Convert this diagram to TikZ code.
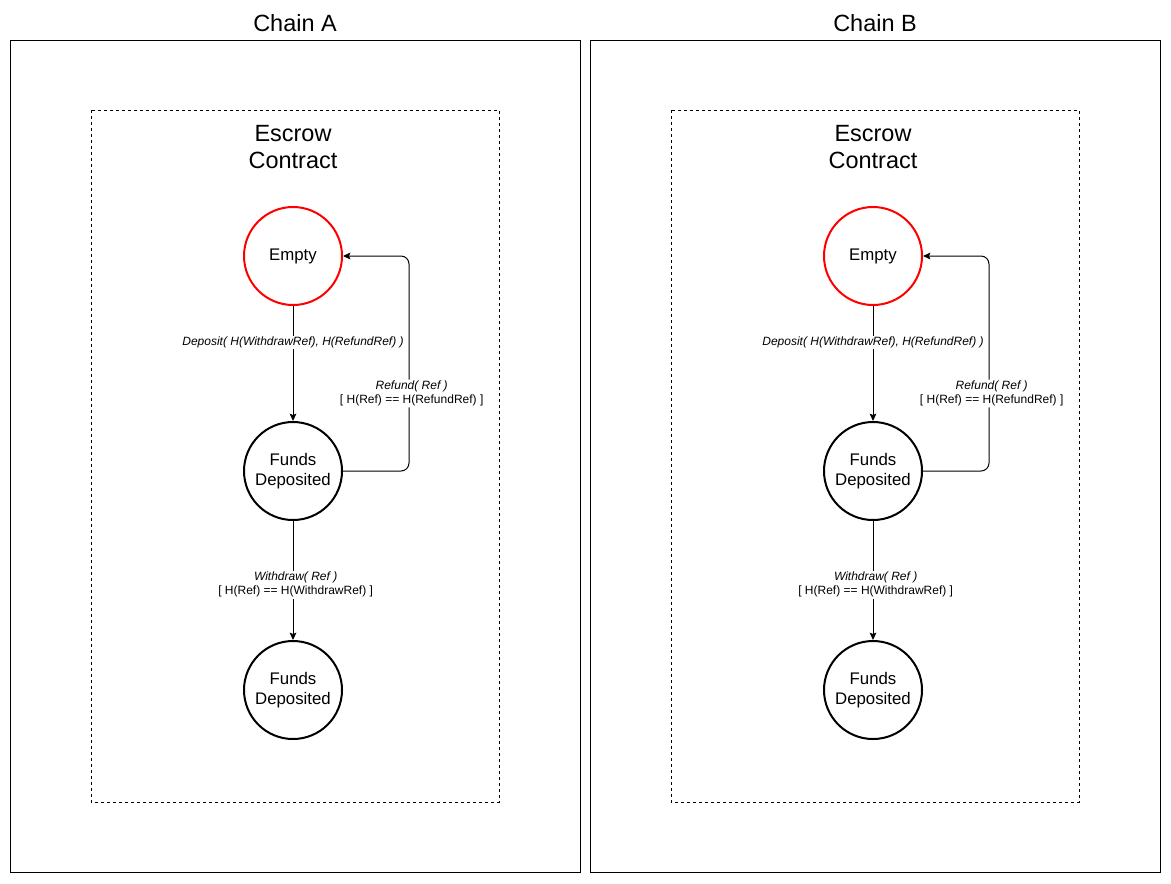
\documentclass[tikz,border=0pt]{standalone}
\usepackage{fontspec}
\setmainfont{Liberation Sans}
\usetikzlibrary{arrows.meta}

\tikzset{
  state/.style={circle, draw, line width=1.5pt, minimum size=73.5pt, inner sep=0pt, align=center, font=\fontsize{12.6}{15}\selectfont},
  start/.style={state, draw=red},
  trans/.style={-{Stealth[length=5.5pt,width=5pt,inset=1pt]}, line width=0.75pt},
  lbl/.style={fill=white, inner sep=1pt, yshift=-1.5pt, align=center, font=\fontsize{9}{10.5}\selectfont},
  title/.style={align=center, font=\fontsize{17.6}{20.3}\selectfont}
}

\begin{document}
\begin{tikzpicture}[x=0.75pt,y=-0.75pt]
				%%%%% START %%%%%
				\def\xa{293}
				\def\xb{873}
				\def\yempty{256}
				\def\yfunds{471}
				\def\ydone{690}
				\def\xloop{409}
				
				\useasboundingbox (0,0) rectangle (1171,883);
				
				% chain A
				\draw[line width=0.75pt] (10,40) rectangle (580,872);
				\node[title] (chainA) at (295,23) {Chain A};
				\draw[line width=0.75pt, dash pattern=on 2.25pt off 2.25pt] (91,110) rectangle (499,802);
				\node[title] (escrowA) at (\xa,147) {Escrow\\Contract};
				
				\node[start] (emptyA) at (\xa,\yempty) {Empty};
				\node[state] (fundsA) at (\xa,\yfunds) {Funds\\Deposited};
				\node[state] (doneA) at (\xa,\ydone) {Funds\\Deposited};
				\coordinate (rfA1) at (\xloop,\yfunds);
				\coordinate (rfA2) at (\xloop,\yempty);
				
				\draw[trans] (emptyA) -- node[lbl, pos=0.3] {\textit{Deposit( H(WithdrawRef), H(RefundRef) )}} (fundsA);
				\draw[trans, rounded corners=6pt] (fundsA.east) -- (rfA1) -- node[lbl, pos=0.37, xshift=2pt] {\textit{Refund( Ref )}\\ {[ H(Ref) == H(RefundRef) ]}} (rfA2) -- (emptyA.east);
				\draw[trans] (fundsA) -- node[lbl, pos=0.52, xshift=2pt] {\textit{Withdraw( Ref )}\\ {[ H(Ref) == H(WithdrawRef) ]}} (doneA);
				
				% chain B
				\draw[line width=0.75pt] (590,40) rectangle (1160,872);
				\node[title] (chainB) at (875,23) {Chain B};
				\draw[line width=0.75pt, dash pattern=on 2.25pt off 2.25pt] (671,110) rectangle (1079,802);
				\node[title] (escrowB) at (\xb,147) {Escrow\\Contract};
				
				\node[start] (emptyB) at (\xb,\yempty) {Empty};
				\node[state] (fundsB) at (\xb,\yfunds) {Funds\\Deposited};
				\node[state] (doneB) at (\xb,\ydone) {Funds\\Deposited};
				\coordinate (rfB1) at (\xloop+580,\yfunds);
				\coordinate (rfB2) at (\xloop+580,\yempty);
				
				\draw[trans] (emptyB) -- node[lbl, pos=0.3] {\textit{Deposit( H(WithdrawRef), H(RefundRef) )}} (fundsB);
				\draw[trans, rounded corners=6pt] (fundsB.east) -- (rfB1) -- node[lbl, pos=0.37, xshift=2pt] {\textit{Refund( Ref )}\\ {[ H(Ref) == H(RefundRef) ]}} (rfB2) -- (emptyB.east);
				\draw[trans] (fundsB) -- node[lbl, pos=0.52, xshift=2pt] {\textit{Withdraw( Ref )}\\ {[ H(Ref) == H(WithdrawRef) ]}} (doneB);
				%%%%% END %%%%%
\end{tikzpicture}
\end{document}
